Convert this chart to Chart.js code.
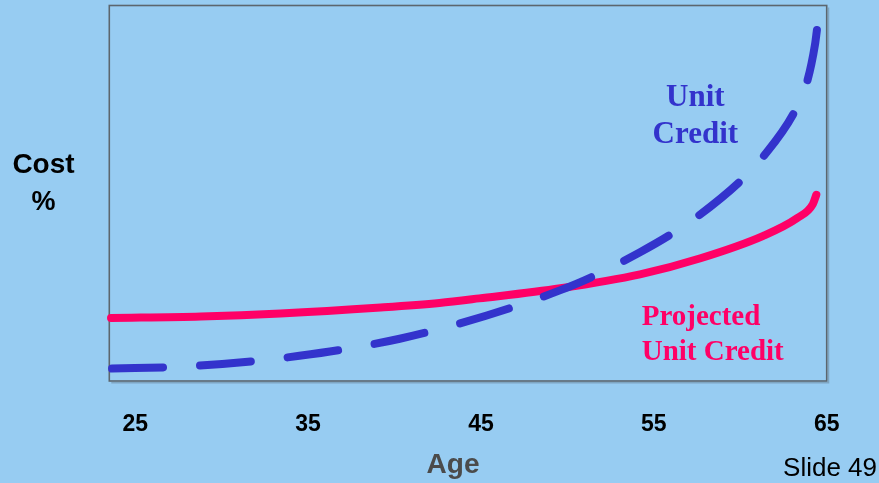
<!DOCTYPE html>
<html>
<head>
<meta charset="utf-8">
<script src="https://cdn.jsdelivr.net/npm/chart.js@4/dist/chart.umd.min.js"></script>
<style>
  html, body { margin: 0; padding: 0; background: #97ccf2; overflow: hidden; }
  canvas { display: block; }
</style>
</head>
<body>
<canvas id="chart" width="879" height="483"></canvas>
<script>
// Age axis ticks
const ageTicks = [25, 35, 45, 55, 65];

// Projected Unit Credit: cost (% of pay) by age
const pucAges  = [23.6, 28.8, 33.4, 39.2, 42.6, 44.9, 49.6, 54.2, 57.7, 61.3, 63.3, 64.2, 64.4];
const pucCosts = [16.8, 17.2, 18.0, 19.6, 20.8, 22.0, 24.7, 28.4, 32.7, 38.6, 43.4, 47.1, 49.6];

// Unit Credit: cost (% of pay) by age
const ucAges  = [23.66, 27.6, 31.8, 34.5, 36.9, 40.3, 43.6, 46.8, 49.6, 51.5, 54.2, 56.0, 57.55, 60.0, 61.3, 63.16, 63.86, 64.32, 64.44];
const ucCosts = [3.3, 3.8, 5.25, 6.7, 8.3, 11.25, 15.1, 19.6, 24.2, 27.9, 34.3, 39.1, 43.9, 53.2, 59.6, 71.9, 79.6, 89.5, 93.7];

const seriesNames = ['Unit Credit', 'Projected Unit Credit'];
const seriesColors = ['#3333cc', '#ff0066'];

// In-chart series captions, anchored in data coordinates (age, cost)
const ucCaption  = { lines: ['Unit', 'Credit'], at: [57.4, 73.2], align: 'center', size: 31, gap: 37 };
const pucCaption = { lines: ['Projected', 'Unit Credit'], at: [54.3, 14.85], align: 'left', size: 29, gap: 35 };

const toPoints = (xs, ys) => xs.map((x, i) => ({ x: x, y: ys[i] }));

// Plot frame drawn under the curves
const framePlugin = {
  id: 'frame',
  beforeDatasetsDraw(chart) {
    const { ctx, chartArea: a } = chart;
    ctx.save();
    ctx.strokeStyle = 'rgba(80,95,110,0.35)';
    ctx.lineWidth = 1.5;
    ctx.beginPath();
    ctx.moveTo(a.right + 1.8, a.top + 2);
    ctx.lineTo(a.right + 1.8, a.bottom + 1.8);
    ctx.lineTo(a.left + 2, a.bottom + 1.8);
    ctx.stroke();
    ctx.strokeStyle = '#5c666e';
    ctx.lineWidth = 1.6;
    ctx.strokeRect(a.left, a.top, a.right - a.left, a.bottom - a.top);
    ctx.restore();
  }
};

// Axis captions, slide number and series captions
const textPlugin = {
  id: 'texts',
  afterDraw(chart) {
    const { ctx, scales: { x, y } } = chart;
    ctx.save();
    ctx.textBaseline = 'alphabetic';

    ctx.fillStyle = '#000000';
    ctx.textAlign = 'center';
    ctx.font = 'bold 28px "Liberation Sans", Arial, sans-serif';
    ctx.fillText('Cost', 43.5, 173);
    ctx.font = 'bold 27px "Liberation Sans", Arial, sans-serif';
    ctx.fillText('%', 43.5, 210);

    ctx.fillStyle = '#4b4b4b';
    ctx.font = 'bold 28px "Liberation Sans", Arial, sans-serif';
    ctx.fillText('Age', 453, 473);

    ctx.fillStyle = '#000000';
    ctx.textAlign = 'right';
    ctx.font = '26px "Liberation Sans", Arial, sans-serif';
    ctx.fillText('Slide 49', 877, 476);

    [[ucCaption, seriesColors[0]], [pucCaption, seriesColors[1]]].forEach(([c, col]) => {
      ctx.fillStyle = col;
      ctx.textAlign = c.align;
      ctx.font = 'bold ' + c.size + 'px "Liberation Serif", "Times New Roman", serif';
      const px = x.getPixelForValue(c.at[0]);
      const py = y.getPixelForValue(c.at[1]);
      c.lines.forEach((t, i) => ctx.fillText(t, px, py + i * c.gap));
    });
    ctx.restore();
  }
};

new Chart(document.getElementById('chart'), {
  type: 'line',
  data: {
    datasets: [
      {
        label: seriesNames[0],
        data: toPoints(ucAges, ucCosts),
        borderColor: seriesColors[0],
        borderWidth: 8,
        borderDash: [51, 37],
        borderCapStyle: 'round',
        borderJoinStyle: 'round',
        cubicInterpolationMode: 'monotone',
        pointRadius: 0,
        fill: false,
        clip: false
      },
      {
        label: seriesNames[1],
        data: toPoints(pucAges, pucCosts),
        borderColor: seriesColors[1],
        borderWidth: 8,
        borderCapStyle: 'round',
        borderJoinStyle: 'round',
        cubicInterpolationMode: 'monotone',
        pointRadius: 0,
        fill: false,
        clip: false
      }
    ]
  },
  options: {
    responsive: false,
    devicePixelRatio: 1,
    animation: false,
    layout: { padding: { left: 109.3, right: 52.3, top: 5.5, bottom: 0 } },
    plugins: { legend: { display: false }, tooltip: { enabled: false } },
    scales: {
      x: {
        type: 'linear',
        min: 23.5,
        max: 65,
        afterBuildTicks: (axis) => { axis.ticks = ageTicks.map(v => ({ value: v })); },
        afterFit: (axis) => { axis.height = 102; },
        grid: { display: false, drawTicks: false },
        border: { display: false },
        ticks: {
          color: '#000000',
          font: { family: '"Liberation Sans", Arial, sans-serif', size: 23, weight: 'bold' },
          padding: 30,
          maxRotation: 0,
          autoSkip: false,
          callback: (v) => String(v)
        }
      },
      y: { display: false, min: 0, max: 100 }
    }
  },
  plugins: [framePlugin, textPlugin]
});
</script>
</body>
</html>
